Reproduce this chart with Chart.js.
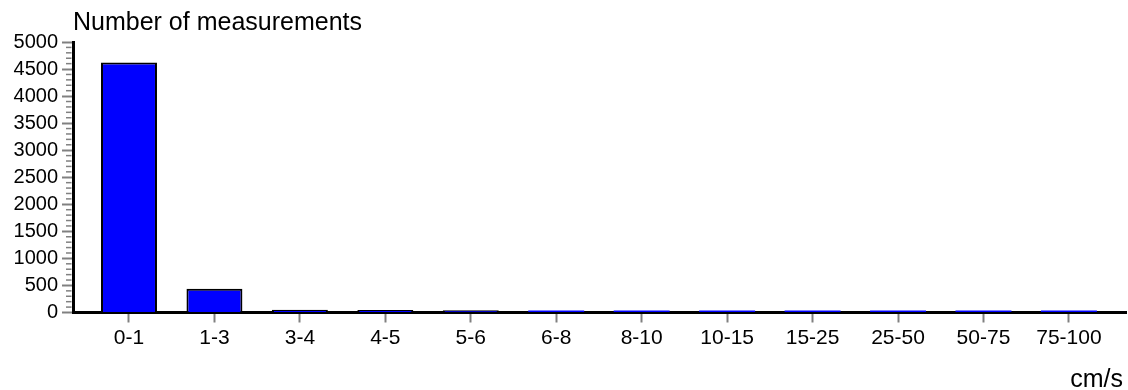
<!DOCTYPE html>
<html><head><meta charset="utf-8">
<script src="https://cdn.jsdelivr.net/npm/chart.js@4"></script>
<style>html,body{margin:0;padding:0;background:#fff}#wrap{width:1128px;height:390px;position:relative}</style>
</head><body><div id="wrap"><canvas id="c"></canvas></div>
<script>
const categories = ['0-1','1-3','3-4','4-5','5-6','6-8','8-10','10-15','15-25','25-50','50-75','75-100'];
const counts = [4620, 440, 50, 45, 40, 0, 0, 0, 0, 0, 0, 0];
const yTitle = 'Number of measurements';
const xTitle = 'cm/s';
const yMin = 0, yMax = 5000, yMajorStep = 500, yMinorStep = 100;

const FONT = "'Liberation Sans', Arial, sans-serif";

const textPlugin = {
  id: 'texts',
  afterDraw(chart) {
    const ctx = chart.ctx, a = chart.chartArea;
    ctx.save();
    ctx.fillStyle = '#000';
    ctx.font = '25px ' + FONT;
    ctx.textAlign = 'left';
    ctx.textBaseline = 'alphabetic';
    ctx.fillText(yTitle, a.left, a.top - 12);
    ctx.font = '25px ' + FONT;
    ctx.textAlign = 'right';
    ctx.fillText(xTitle, a.right - 3, chart.height - 3);
    ctx.restore();
  }
};

const minorTicks = {
  id: 'minorTicks',
  afterDraw(chart) {
    const s = chart.scales.y, ctx = chart.ctx;
    ctx.save();
    ctx.strokeStyle = '#808080';
    ctx.lineWidth = 1.5;
    s.ticks.forEach(t => {
      if (t.value % yMajorStep !== 0) {
        const y = s.getPixelForValue(t.value);
        ctx.beginPath();
        ctx.moveTo(s.right - 7, y);
        ctx.lineTo(s.right - 1.5, y);
        ctx.stroke();
      }
    });
    ctx.restore();
  }
};

new Chart(document.getElementById('c'), {
  type: 'bar',
  data: {
    datasets: [{
      data: counts.map((v, i) => ({ x: i, y: v })),
      backgroundColor: '#0000ff',
      borderColor: '#000000',
      borderWidth: c => (c.raw && c.raw.y === 0) ? 0 : 2,
      barPercentage: 0.655,
      categoryPercentage: 1,
      minBarLength: 2
    }]
  },
  options: {
    responsive: true,
    maintainAspectRatio: false,
    animation: false,
    layout: { padding: { top: 42, right: 2, left: 0, bottom: 0 } },
    plugins: { legend: { display: false }, tooltip: { enabled: false } },
    scales: {
      x: {
        type: 'linear',
        min: -0.6553,
        max: 11.668,
        offset: false,
        afterBuildTicks: s => { s.ticks = categories.map((c, i) => ({ value: i })); },
        ticks: {
          callback: v => categories[v] !== undefined ? categories[v] : '',
          font: { family: FONT, size: 21 },
          color: '#000',
          padding: 3,
          maxRotation: 0,
          autoSkip: false
        },
        grid: { offset: false, drawOnChartArea: false, tickLength: 10, tickColor: '#808080', tickWidth: 2 },
        border: { color: '#000', width: 3 },
        afterFit: s => { s.height = 77.5; }
      },
      y: {
        min: yMin,
        max: yMax,
        ticks: {
          stepSize: yMinorStep,
          autoSkip: false,
          callback: v => (v % yMajorStep === 0 ? String(v) : ''),
          font: { family: FONT, size: 20 },
          color: '#000',
          padding: 4
        },
        grid: {
          drawOnChartArea: false,
          tickLength: 11,
          tickColor: c => (c.tick && c.tick.value % yMajorStep === 0) ? '#808080' : 'rgba(0,0,0,0)',
          tickWidth: 2
        },
        border: { color: '#000', width: 3 },
        afterFit: s => { s.width = 73; }
      }
    }
  },
  plugins: [textPlugin, minorTicks]
});
</script>
</body></html>
